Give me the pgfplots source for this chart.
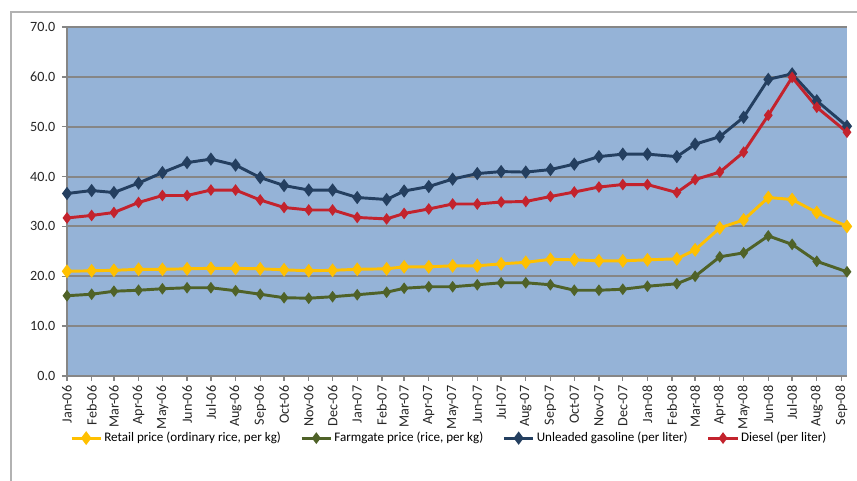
\documentclass[border=0pt]{standalone}
\usepackage{fontspec}
\setmainfont{Carlito}
\usepackage{pgfplots}
\pgfplotsset{compat=1.18}
\usepackage{pgfplotstable}
\definecolor{bg}{HTML}{95B3D7}
\definecolor{gridc}{HTML}{868686}
\definecolor{gasc}{HTML}{243F60}
\definecolor{dieselc}{HTML}{C3232D}
\definecolor{retailc}{HTML}{FFC000}
\definecolor{farmc}{HTML}{4F6228}
\pgfplotstableread{
x retail farm gas diesel
0 21.0 16.1 36.6 31.7
31 21.1 16.4 37.2 32.2
59 21.2 17.0 36.8 32.8
90 21.4 17.2 38.7 34.8
120 21.4 17.5 40.8 36.2
151 21.5 17.7 42.8 36.2
181 21.6 17.7 43.5 37.3
212 21.6 17.1 42.3 37.3
243 21.5 16.4 39.8 35.3
273 21.3 15.7 38.2 33.8
304 21.1 15.6 37.3 33.3
334 21.2 15.9 37.3 33.3
365 21.4 16.3 35.8 31.8
402 21.5 16.8 35.4 31.5
424 21.9 17.6 37.1 32.6
455 21.9 17.9 38.0 33.5
485 22.1 17.9 39.5 34.5
516 22.1 18.3 40.6 34.5
546 22.5 18.7 41.0 34.9
577 22.8 18.7 40.9 35.0
608 23.4 18.3 41.4 36.0
638 23.3 17.2 42.5 36.9
669 23.1 17.2 44.0 37.9
699 23.1 17.4 44.5 38.4
730 23.3 18.0 44.5 38.4
767 23.5 18.5 44.0 36.8
790 25.3 20.0 46.5 39.4
821 29.7 23.9 48.0 40.9
851 31.3 24.7 51.9 44.9
882 35.8 28.1 59.5 52.3
912 35.4 26.4 60.6 59.9
943 32.8 23.0 55.2 53.9
981 30.0 20.9 50.1 48.9
}\data
\begin{document}
\begin{tikzpicture}
\begin{axis}[
  scale only axis, width=585pt, height=261.75pt,
  xmin=0, xmax=981, ymin=0, ymax=70,
  clip=false,
  axis background/.style={fill=bg},
  axis x line*=bottom, axis y line*=left,
  axis line style={-, draw=gridc, line width=1.4pt},
  ytick={0,10,...,70},
  ymajorgrids,
  major grid style={draw=gridc, line width=1.5pt},
  xtick={0,31,59,90,120,151,181,212,243,273,304,334,365,396,424,455,485,516,546,577,608,638,669,699,730,761,790,821,851,882,912,943,974},
  xticklabels={Jan-06,Feb-06,Mar-06,Apr-06,May-06,Jun-06,Jul-06,Aug-06,Sep-06,Oct-06,Nov-06,Dec-06,Jan-07,Feb-07,Mar-07,Apr-07,May-07,Jun-07,Jul-07,Aug-07,Sep-07,Oct-07,Nov-07,Dec-07,Jan-08,Feb-08,Mar-08,Apr-08,May-08,Jun-08,Jul-08,Aug-08,Sep-08},
  tick align=outside,
  major tick length=3.75pt,
  tick style={draw=gridc, line width=1pt},
  /pgf/number format/assume math mode=true,
  tick label style={font=\fontsize{10.6}{12}\selectfont, text=black!85},
  x tick label style={rotate=90, anchor=east},
  yticklabel style={/pgf/number format/.cd, fixed, fixed zerofill, precision=1, /tikz/.cd, xshift=-1.5pt},
  legend columns=4,
  legend style={at={(0.49,-0.178)}, anchor=center, draw=none, fill=none,
    font=\fontsize{9.8}{11}\selectfont,
    nodes={inner sep=1.5pt},
    /tikz/every even column/.append style={column sep=13pt}},
  legend image code/.code={\draw[mark repeat=2,mark phase=2,#1] plot coordinates {(0pt,0pt) (11pt,0pt) (22pt,0pt)};},
]
\addplot[color=retailc, line width=2.2pt, mark=diamond*, mark size=3.4pt, mark options={solid}] table[x=x,y=retail]{\data};
\addlegendentry{Retail price (ordinary rice, per kg)}
\addplot[color=farmc, line width=2.2pt, mark=diamond*, mark size=2.6pt] table[x=x,y=farm]{\data};
\addlegendentry{Farmgate price (rice, per kg)}
\addplot[color=gasc, line width=2.2pt, mark=diamond*, mark size=3.2pt] table[x=x,y=gas]{\data};
\addlegendentry{Unleaded gasoline (per liter)}
\addplot[color=dieselc, line width=2.2pt, mark=diamond*, mark size=2.6pt] table[x=x,y=diesel]{\data};
\addlegendentry{Diesel (per liter)}
\end{axis}
\draw[color=black!30, line width=0.8pt] (-42pt,-90pt) -- (-42pt,273pt) -- (620pt,273pt);
\pgfresetboundingbox
\path[use as bounding box] (-50.25pt,-78.75pt) rectangle (592.5pt,282pt);
\end{tikzpicture}
\end{document}
